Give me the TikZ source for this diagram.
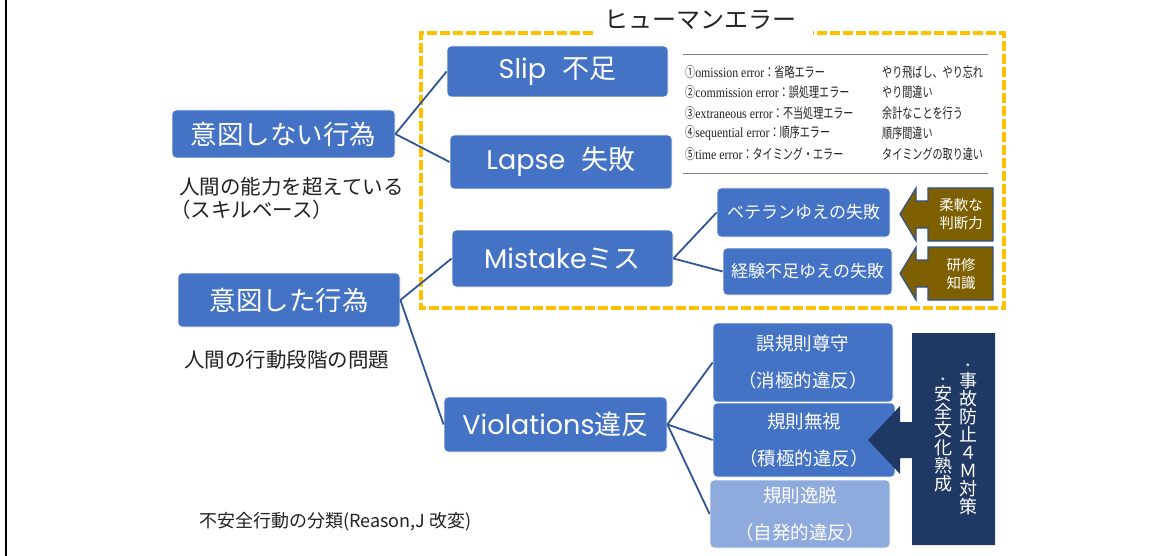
\documentclass[tikz,border=0pt]{standalone}
\usepackage{fontspec}
\usepackage{graphicx}
\setmainfont{Noto Sans CJK JP}
\newfontfamily\lat{Poppins}
\newfontfamily\ser{Liberation Serif}
\newcommand{\fsz}[1]{\fontsize{#1}{#1}\selectfont}
\newcommand{\tjp}[1]{\scalebox{0.72}[1]{#1}}
\newcommand{\tla}[1]{\scalebox{0.85}[1]{\ser #1}}
\newcommand{\starchar}[1]{\rlap{\makebox[1em]{\smash{\raisebox{0.86em}{\fsz{10}*}}}}#1}
\definecolor{boxblue}{HTML}{4472C4}
\definecolor{lightblue}{HTML}{8FAADC}
\definecolor{linecol}{HTML}{2F5597}
\definecolor{ybox}{HTML}{FFC000}
\definecolor{brownf}{HTML}{7F6000}
\definecolor{navyf}{HTML}{203864}
\definecolor{arrline}{HTML}{2F528F}
\definecolor{txt}{HTML}{222222}
\tikzset{
  bbox/.style={fill=boxblue, draw=white, line width=0.8pt, rounded corners=4pt,
    text=white, inner sep=0pt, align=center},
  lbox/.style={bbox, fill=lightblue},
  conn/.style={draw=linecol, line width=1.8pt},
  sub/.style={text=txt, anchor=west, inner sep=0pt, font=\fsz{20.5}},
  tab/.style={text=txt, anchor=west, inner sep=0pt, font=\fsz{14}},
  arrtxt/.style={text=white, inner sep=0pt, align=center, font=\fontsize{14.5}{18}\selectfont},
  vtxt/.style={text=white, inner sep=0pt, align=center, font=\fsz{18}},
}
\begin{document}
\begin{tikzpicture}[x=1pt,y=-1pt]
\useasboundingbox (0,0) rectangle (1156,556);
\fill[white] (0,0) rectangle (1156,556);
\draw[line width=2.5pt, black] (6,0) -- (6,556);

% yellow dashed frame
\draw[ybox, line width=4pt, line cap=butt, dash pattern=on 10pt off 3pt]
  (593,33) -- (421,33) -- (421,308) -- (1004,308) -- (1004,33) -- (813,33);
\node[text=txt, font=\fsz{24}, inner sep=0pt] (title) at (700,20) {ヒューマンエラー};

% left boxes
\node[bbox, minimum width=223pt, minimum height=48pt, font=\fsz{26.5}] (i1) at (283.5,134) {意図しない行為};
\node[bbox, minimum width=222pt, minimum height=54pt, font=\fsz{26.5}] (i2) at (289,300) {意図した行為};
\node[sub] (s1) at (179,187) {人間の能力を超えている};
\node[sub] (s1b) at (170,210) {（スキルベース）};
\node[sub] (s2) at (184,360) {人間の行動段階の問題};
\node[sub, font=\fsz{18}] (cap) at (199,522) {不安全行動の分類(Reason,J 改変)};

% middle boxes
\node[bbox, minimum width=221pt, minimum height=51pt, font=\fsz{27}] (slip) at (557.5,71.5) {{\lat Slip}\hspace{0.6em}不足};
\node[bbox, minimum width=222pt, minimum height=54pt, font=\fsz{27}] (lapse) at (561,162) {{\lat Lapse}\hspace{0.6em}失敗};
\node[bbox, minimum width=221pt, minimum height=57pt, font=\fsz{27}] (mist) at (562.5,258.5) {{\lat Mistake}ミス};
\node[bbox, minimum width=223pt, minimum height=55pt, font=\fsz{27}] (viol) at (555.5,424.5) {{\lat Violations}違反};

% table
\coordinate (ta) at (683,55); \coordinate (tb) at (988,55);
\coordinate (tc) at (683,174); \coordinate (td) at (988,174);
\draw[gray, line width=1pt] (ta) -- (tb);
\draw[gray, line width=1pt] (tc) -- (td);
\node[tab] (r1) at (685,72) {\tjp{①}\tla{omission error}\tjp{：省略エラー}};
\node[tab] (r2) at (685,92.5) {\tjp{②}\tla{commission error}\tjp{：誤処理エラー}};
\node[tab] (r3) at (685,113) {\tjp{③}\tla{extraneous error}\tjp{：不当処理エラー}};
\node[tab] (r4) at (685,133.5) {\tjp{④}\tla{sequential error}\tjp{：順序エラー}};
\node[tab] (r5) at (685,154) {\tjp{⑤}\tla{time error}\tjp{：タイミング・エラー}};
\node[tab] (q1) at (882,72) {\tjp{やり飛ばし、やり忘れ}};
\node[tab] (q2) at (882,92.5) {\tjp{やり間違い}};
\node[tab] (q3) at (882,113) {\tjp{余計なことを行う}};
\node[tab] (q4) at (882,133.5) {\tjp{順序間違い}};
\node[tab] (q5) at (882,154) {\tjp{タイミングの取り違い}};

% mistake sub boxes
\node[bbox, minimum width=173pt, minimum height=49pt, font=\fsz{17}] (vet) at (803.5,212.5) {ベテランゆえの失敗};
\node[bbox, minimum width=169pt, minimum height=47pt, font=\fsz{17}] (kei) at (807.5,271.5) {経験不足ゆえの失敗};

% brown arrow callouts
\filldraw[fill=brownf, draw=arrline, line width=1.2pt]
  (993,188) -- (928,188) -- (928,201) -- (916,201) -- (916,188) -- (900,214)
  -- (916,241) -- (916,228) -- (928,228) -- (928,241) -- (993,241) -- cycle;
\node[arrtxt] (flex) at (961,214) {柔軟な\\判断力};
\filldraw[fill=brownf, draw=arrline, line width=1.2pt]
  (993,247) -- (928,247) -- (928,260) -- (916,260) -- (916,247) -- (900,273.5)
  -- (916,300) -- (916,287) -- (928,287) -- (928,300) -- (993,300) -- cycle;
\node[arrtxt] (train) at (961,274) {研修\\知識};

% violation sub boxes
\node[bbox, minimum width=180pt, minimum height=79pt, font=\fsz{18.5}] (v1) at (803,362.5) {誤規則尊守\\[18.5pt]（消極的違反）};
\node[bbox, minimum width=182pt, minimum height=74pt, font=\fsz{18.5}] (v2) at (804,440) {規則無視\\[18.5pt]（積極的違反）};
\node[lbox, minimum width=180pt, minimum height=68pt, font=\fsz{18.5}] (v3) at (800,514) {規則逸脱\\[18.5pt]（自発的違反）};

% navy arrow
\fill[navyf] (995,333) -- (912,333) -- (912,422) -- (900,422) -- (900,406) -- (868,440)
  -- (900,474) -- (900,458) -- (912,458) -- (912,545) -- (995,545) -- cycle;
\node[vtxt] (col1) at (968,443.5) {\starchar{事}\\故\\防\\止\\４\\Ｍ\\対\\策};
\node[vtxt] (col2) at (943,439) {\starchar{安}\\全\\文\\化\\熟\\成};

% connectors
\draw[conn] (i1.east) -- (slip.west);
\draw[conn] (i1.east) -- (lapse.west);
\draw[conn] (i2.east) -- (mist.west);
\draw[conn] (i2.east) -- (viol.west);
\draw[conn] (mist.east) -- (vet.west);
\draw[conn] (mist.east) -- (kei.west);
\draw[conn] (viol.east) -- (v1.west);
\draw[conn] (viol.east) -- (v2.west);
\draw[conn] (viol.east) -- (v3.west);
\end{tikzpicture}
\end{document}
